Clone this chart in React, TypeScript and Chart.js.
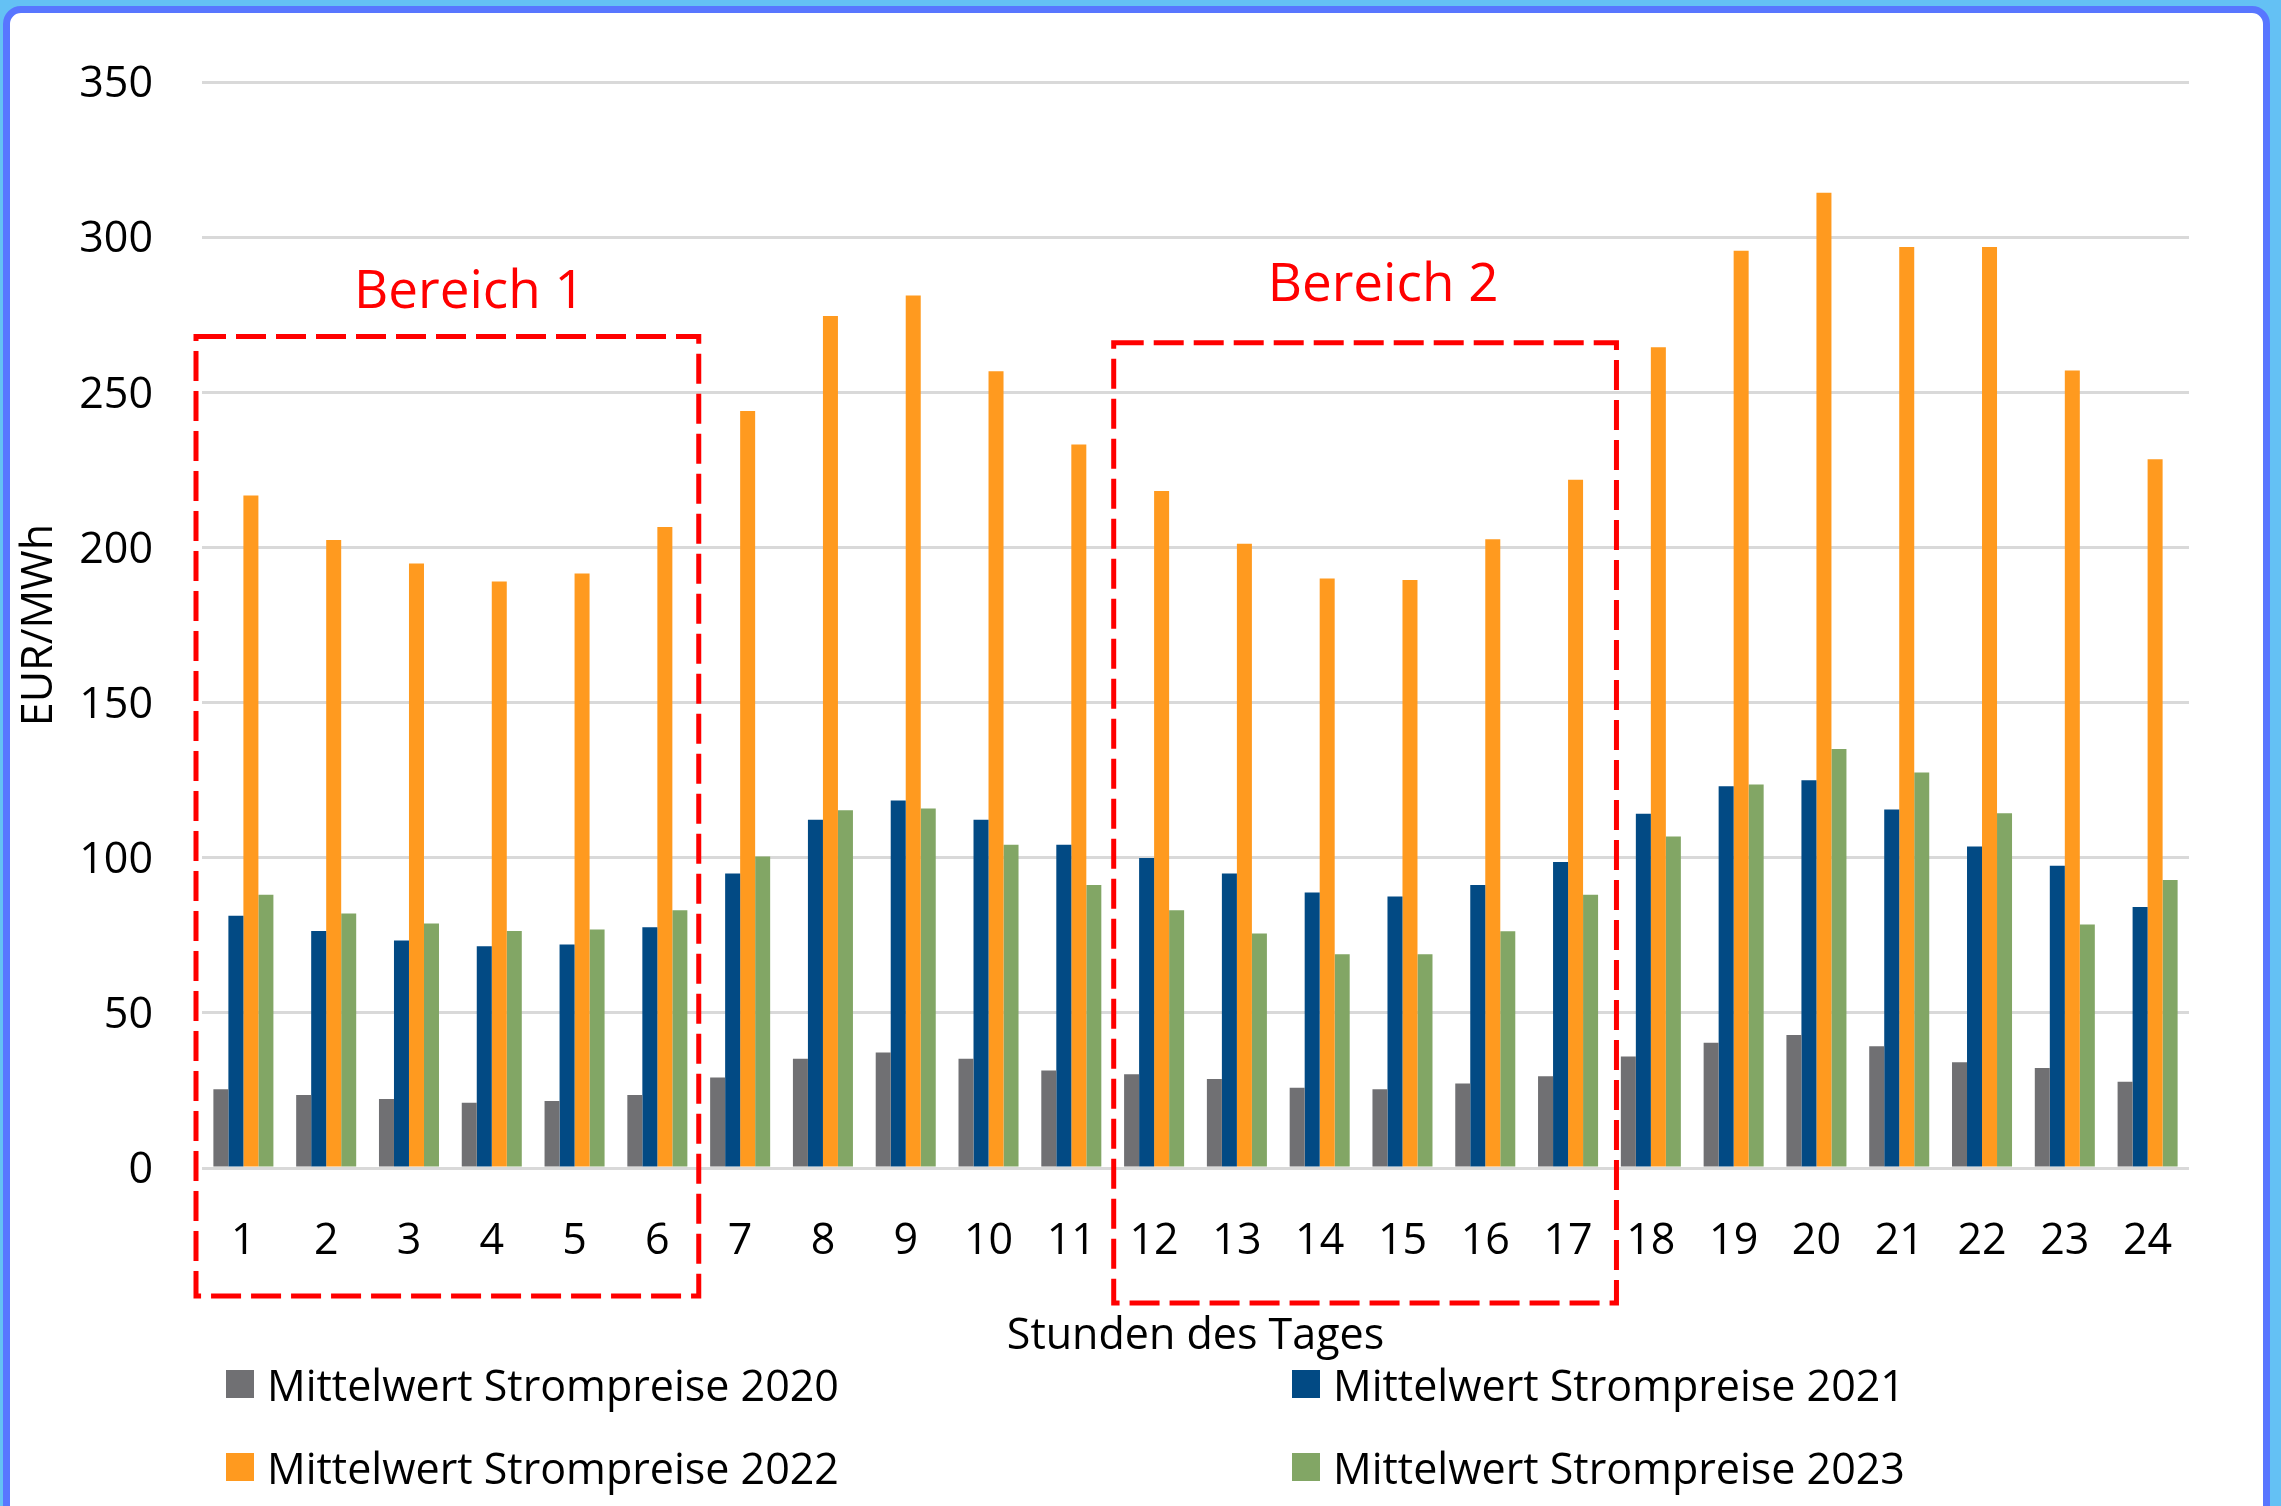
import React, { useEffect, useRef } from "react";
import { Chart, registerables } from "chart.js";

Chart.register(...registerables);

// ---------- data ----------
const hours = ["1", "2", "3", "4", "5", "6", "7", "8", "9", "10", "11", "12", "13", "14", "15", "16", "17", "18", "19", "20", "21", "22", "23", "24"];

const seriesNames = [
  "Mittelwert Strompreise 2020",
  "Mittelwert Strompreise 2021",
  "Mittelwert Strompreise 2022",
  "Mittelwert Strompreise 2023",
];

const values2020 = [25.4, 23.5, 22.2, 21, 21.6, 23.5, 29.2, 35.2, 37.2, 35.2, 31.4, 30.2, 28.7, 25.9, 25.4, 27.2, 29.6, 35.9, 40.4, 42.9, 39.2, 34.1, 32.2, 27.8];
const values2021 = [81.3, 76.4, 73.3, 71.5, 72, 77.6, 94.9, 112.2, 118.4, 112.2, 104.2, 99.9, 94.9, 88.8, 87.5, 91.2, 98.6, 114.2, 123, 125, 115.5, 103.6, 97.4, 84.1];
const values2022 = [216.7, 202.4, 194.8, 189, 191.6, 206.6, 244, 274.6, 281.2, 256.8, 233.2, 218.2, 201.2, 190, 189.5, 202.6, 221.8, 264.5, 295.6, 314.3, 296.8, 296.8, 257, 228.4];
const values2023 = [88.1, 82, 78.8, 76.4, 76.9, 83.1, 100.4, 115.3, 115.9, 104.2, 91.2, 83.1, 75.6, 68.9, 68.9, 76.3, 88.1, 106.8, 123.6, 135, 127.5, 114.3, 78.5, 92.8];

const yMin = 0;
const yMax = 350;
const yStep = 50;

const yTitle = "EUR/MWh";
const xTitle = "Stunden des Tages";

// highlighted regions (hours)
const regionLabels = ["Bereich 1", "Bereich 2"];
const regionStartHour = [1, 12];
const regionEndHour = [6, 17];
const regionTopValue = [268, 266];

// ---------- styles ----------
const seriesColors = ["#707073", "#024A84", "#FF9A1F", "#82A665"];
const FONT = "'Open Sans', sans-serif";
const regionPadLeft = [6, -1];
const regionPadRight = [0, 7];
const regionBottomOffset = [128, 135];
const regionLabelOffsetY = [-44, -57];
const regionLabelOffsetX = [22, 18];

const regionPlugin = {
  id: "regions",
  afterDatasetsDraw(chart: any) {
    const { ctx, scales, chartArea } = chart;
    const xs = scales.x;
    const ys = scales.y;
    const catW = xs.getPixelForValue(1) - xs.getPixelForValue(0);
    ctx.save();
    for (let i = 0; i < regionLabels.length; i++) {
      const left = xs.getPixelForValue(regionStartHour[i] - 1) - catW / 2 - regionPadLeft[i];
      const right = xs.getPixelForValue(regionEndHour[i] - 1) + catW / 2 + regionPadRight[i];
      const top = ys.getPixelForValue(regionTopValue[i]);
      const bottom = chartArea.bottom + regionBottomOffset[i];
      ctx.strokeStyle = "#FF0000";
      ctx.lineWidth = 5;
      ctx.setLineDash([30, 10]);
      ctx.strokeRect(left, top, right - left, bottom - top);
      ctx.setLineDash([]);
      ctx.fillStyle = "#FF0000";
      ctx.font = `53px ${FONT}`;
      ctx.textAlign = "center";
      ctx.textBaseline = "middle";
      ctx.fillText(regionLabels[i], (left + right) / 2 + regionLabelOffsetX[i], top + regionLabelOffsetY[i]);
    }
    ctx.restore();
  },
};

export default function App() {
  const canvasRef = useRef<HTMLCanvasElement | null>(null);

  useEffect(() => {
    const canvas = canvasRef.current;
    if (!canvas) return;
    const allValues = [values2020, values2021, values2022, values2023];
    const chart = new Chart(canvas, {
      type: "bar",
      data: {
        labels: hours,
        datasets: allValues.map((vals, i) => ({
          label: seriesNames[i],
          data: vals,
          backgroundColor: seriesColors[i],
          borderWidth: 0,
          categoryPercentage: 0.725,
          barPercentage: 1.0,
        })),
      },
      options: {
        responsive: false,
        animation: false,
        devicePixelRatio: 1,
        layout: { padding: { left: 0, top: 82, right: 92, bottom: 138 } },
        plugins: {
          legend: { display: false },
          tooltip: { enabled: false },
        },
        scales: {
          x: {
            grid: { display: false, drawTicks: false },
            border: { display: false },
            ticks: { color: "#000", font: { family: FONT, size: 43 }, padding: 48, maxRotation: 0, autoSkip: false },
            title: { display: true, text: xTitle, color: "#000", font: { family: FONT, size: 43 }, padding: { top: 0, bottom: 5 } },
            afterFit: (s: any) => { s.height = 200; },
          },
          y: {
            min: yMin,
            max: yMax,
            grid: { color: "#D9D9D9", lineWidth: 3, drawTicks: false },
            border: { display: false },
            ticks: { stepSize: yStep, color: "#000", font: { family: FONT, size: 43 }, padding: 49, labelOffset: 3 },
            title: { display: true, text: yTitle, color: "#000", font: { family: FONT, size: 43 }, padding: { top: 14, bottom: 0 } },
            afterFit: (s: any) => { s.width = 202; },
          },
        },
      },
      plugins: [regionPlugin],
    });
    return () => chart.destroy();
  }, []);

  const legendCols = [226, 1292];
  const legendRows = [1384, 1467];

  return (
    <div style={{ position: "fixed", left: 0, top: 0, width: 2281, height: 1506, background: "#64C1F4", overflow: "hidden" }}>
      <div
        style={{
          position: "absolute",
          left: 3,
          top: 6,
          width: 2267,
          height: 1530,
          boxSizing: "border-box",
          border: "7px solid #5876FF",
          borderRadius: 18,
          background: "#FFFFFF",
        }}
      />
      <canvas ref={canvasRef} width={2281} height={1506} style={{ position: "absolute", left: 0, top: 0, width: 2281, height: 1506 }} />
      {seriesNames.map((name, i) => (
        <div
          key={name}
          style={{
            position: "absolute",
            left: legendCols[i % 2],
            top: legendRows[Math.floor(i / 2)] - 30,
            height: 60,
            display: "flex",
            alignItems: "center",
            fontFamily: FONT,
            fontSize: 43,
            color: "#000",
            whiteSpace: "nowrap",
          }}
        >
          <span style={{ display: "inline-block", width: 28, height: 28, background: seriesColors[i], marginRight: 13 }} />
          <span>{name}</span>
        </div>
      ))}
    </div>
  );
}
